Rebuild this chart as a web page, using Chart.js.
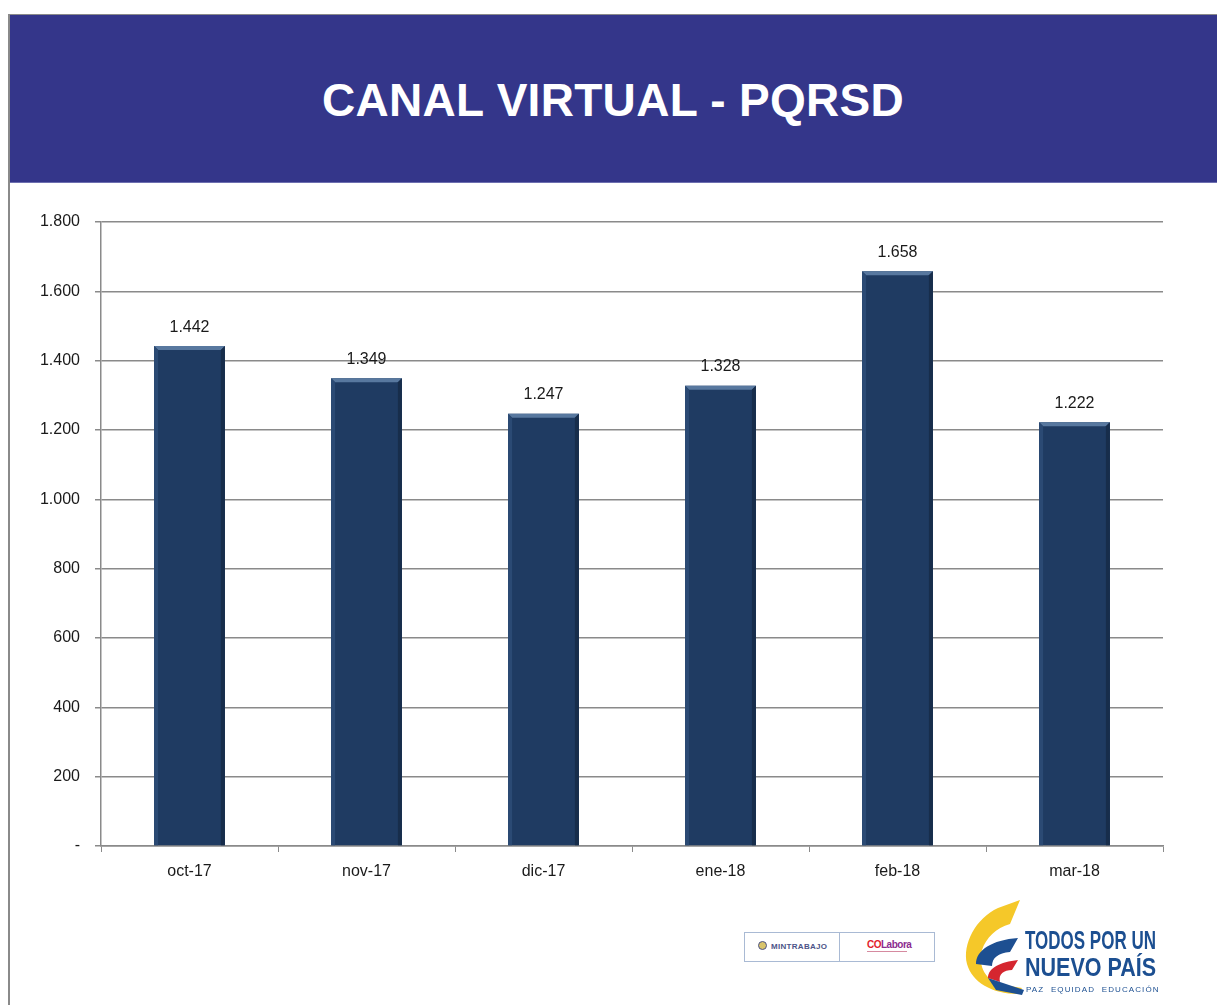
<!DOCTYPE html>
<html>
<head>
<meta charset="utf-8">
<script src="https://cdn.jsdelivr.net/npm/chart.js@4.4.0/dist/chart.umd.min.js"></script>
<style>
  body { margin: 0; background: #fff; width: 1217px; height: 1005px; overflow: hidden; position: relative; font-family: "Liberation Sans", Arial, sans-serif; }
  #leftLine { position: absolute; left: 8px; top: 14px; width: 2px; height: 991px; background: #8a8a8a; }
  #header { position: absolute; left: 9px; top: 14px; width: 1208px; height: 167px; background: #34368a; border-top: 1px solid #8a8a8a; border-bottom: 1px solid #6d6fb0; }
  #header h1 { margin: 0; position: absolute; left: 0; right: 0; top: 58px; text-align: center; color: #fff; font: bold 46px "Liberation Sans", Arial, sans-serif; letter-spacing: 0.3px; }
  #chartWrap { position: absolute; left: 9px; top: 182px; }
  .mintBox { position: absolute; left: 744px; top: 932px; width: 189px; height: 28px; border: 1px solid #a9bad4; }
  .mintBox .div { position: absolute; left: 94px; top: 0; width: 1px; height: 28px; background: #a9bad4; }
  .mint { position: absolute; left: 26px; top: 9px; font: bold 8px "Liberation Sans", sans-serif; color: #4d5488; letter-spacing: 0.3px; }
  .seal { position: absolute; left: 13px; top: 8px; width: 9px; height: 9px; border-radius: 50%; border: 1px solid #4d5488; box-sizing: border-box; background: #d9c46a; }
  .cola { position: absolute; left: 122px; top: 6px; font: bold 10px "Liberation Sans", sans-serif; letter-spacing: -0.5px; }
  .cola .co { color: #e2212b; } .cola .lab { color: #8b2c8f; }
  .colaSub { position: absolute; left: 122px; top: 18px; width: 40px; height: 1px; background: #d68aa0; }
  .todos { position: absolute; left: 1025px; font: bold 25px "Liberation Sans", sans-serif; color: #1c4f91; transform-origin: left top; white-space: nowrap; }
  .paz { position: absolute; left: 1026px; top: 985px; font: 8px "Liberation Sans", sans-serif; color: #1c4f91; letter-spacing: 1.1px; white-space: nowrap; }
</style>
</head>
<body>
<div id="header"><h1>CANAL VIRTUAL - PQRSD</h1></div>
<div id="leftLine"></div>
<div id="chartWrap"><canvas id="pqrsdChart" width="1208" height="720"></canvas></div>

<div class="mintBox">
  <div class="seal"></div>
  <div class="mint">MINTRABAJO</div>
  <div class="div"></div>
  <div class="cola"><span class="co">CO</span><span class="lab">Labora</span></div>
  <div class="colaSub"></div>
</div>
<svg style="position:absolute;left:958px;top:898px" width="70" height="102" viewBox="0 0 70 102">
  <path d="M62 2 L52 26 C38 30 28 40 24 52 C20 66 26 80 40 86 L64 90 L60 96 C34 96 14 84 9 66 C4 46 18 20 40 10 Z" fill="#f5c829"/>
  <path d="M60 40 L52 54 C40 55 34 60 34 68 L18 66 C18 52 34 42 60 40 Z" fill="#1d4f91"/>
  <path d="M60 62 L54 72 C46 72 40 76 42 84 L30 80 C30 70 42 64 60 62 Z" fill="#d5262f"/>
  <path d="M30 80 L42 84 L66 92 L64 97 L38 92 Z" fill="#1d4f91"/>
</svg>
<div class="todos" style="top:926px;transform:scaleX(0.68)">TODOS POR UN</div>
<div class="todos" style="top:953px;transform:scaleX(0.86)">NUEVO PAÍS</div>
<div class="paz">PAZ &nbsp;EQUIDAD &nbsp;EDUCACIÓN</div>

<script>
// datos del canal virtual
const months = ['oct-17', 'nov-17', 'dic-17', 'ene-18', 'feb-18', 'mar-18'];
const pqrsd = [1442, 1349, 1247, 1328, 1658, 1222];
const yTicks = [0, 200, 400, 600, 800, 1000, 1200, 1400, 1600, 1800];

function fmt(v) {
  if (v === 0) return '-';
  return String(v).replace(/\B(?=(\d{3})+(?!\d))/g, '.');
}

// etiquetas encima de las barras
const valueLabels = {
  id: 'valueLabels',
  afterDatasetsDraw(chart) {
    const ctx = chart.ctx;
    const meta = chart.getDatasetMeta(0);
    ctx.save();
    ctx.font = '16px "Liberation Sans", Arial, sans-serif';
    ctx.fillStyle = '#1a1a1a';
    ctx.textAlign = 'center';
    ctx.textBaseline = 'bottom';
    meta.data.forEach((bar, i) => {
      ctx.fillText(fmt(pqrsd[i]), bar.x, bar.y - 11);
    });
    ctx.restore();
  }
};

// bisel de las barras
const bevel = {
  id: 'bevel',
  afterDatasetsDraw(chart) {
    const ctx = chart.ctx;
    const meta = chart.getDatasetMeta(0);
    const b = 4;
    ctx.save();
    meta.data.forEach(bar => {
      const l = bar.x - bar.width / 2, r = bar.x + bar.width / 2;
      const t = bar.y, btm = bar.base;
      ctx.fillStyle = '#58789f';
      ctx.beginPath();
      ctx.moveTo(l, t); ctx.lineTo(r, t); ctx.lineTo(r - b, t + b); ctx.lineTo(l + b, t + b); ctx.closePath();
      ctx.fill();
      ctx.fillStyle = '#2b4a74';
      ctx.beginPath();
      ctx.moveTo(l, t); ctx.lineTo(l + b, t + b); ctx.lineTo(l + b, btm); ctx.lineTo(l, btm); ctx.closePath();
      ctx.fill();
      ctx.fillStyle = '#172d4b';
      ctx.beginPath();
      ctx.moveTo(r, t); ctx.lineTo(r - b, t + b); ctx.lineTo(r - b, btm); ctx.lineTo(r, btm); ctx.closePath();
      ctx.fill();
    });
    ctx.restore();
  }
};

const ctx = document.getElementById('pqrsdChart').getContext('2d');
new Chart(ctx, {
  type: 'bar',
  data: {
    labels: months,
    datasets: [{
      data: pqrsd,
      backgroundColor: '#1f3b62',
      borderWidth: 0,
      barPercentage: 0.4,
      categoryPercentage: 1
    }]
  },
  options: {
    responsive: false,
    animation: false,
    layout: { padding: { top: 40, right: 54, bottom: 0, left: 0 } },
    plugins: { legend: { display: false }, tooltip: { enabled: false } },
    scales: {
      x: {
        grid: { offset: true, drawOnChartArea: false, color: '#8a8a8a', tickLength: 6 },
        border: { color: '#8a8a8a', width: 1.5 },
        ticks: { color: '#1a1a1a', font: { size: 16, family: '"Liberation Sans", Arial, sans-serif' }, padding: 10 },
        afterFit(scale) { scale.height = 56; }
      },
      y: {
        min: 0,
        max: 1800,
        afterBuildTicks(scale) { scale.ticks = yTicks.map(v => ({ value: v })); },
        grid: { color: '#8a8a8a', lineWidth: 1.5, tickLength: 6 },
        border: { color: '#8a8a8a', width: 1.5 },
        ticks: {
          color: '#1a1a1a',
          font: { size: 16, family: '"Liberation Sans", Arial, sans-serif' },
          padding: 15,
          callback: v => fmt(v)
        },
        afterFit(scale) { scale.width = 92; }
      }
    }
  },
  plugins: [bevel, valueLabels]
});
</script>
</body>
</html>
